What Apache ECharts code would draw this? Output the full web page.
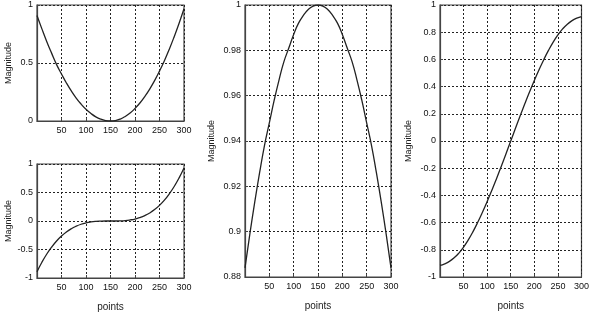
<!DOCTYPE html>
<html>
<head>
<meta charset="utf-8">
<script src="https://cdn.jsdelivr.net/npm/echarts@6/dist/echarts.min.js"></script>
<style>
    html,body{margin:0;padding:0;background:#fff;}
    #myChart{width:592px;height:327px;}
</style>
</head>
<body>
<div id="myChart"></div>
<script>
// x positions (points) the curves are read at
var pointsList = [0,10,20,30,40,50,60,70,80,90,100,110,120,130,140,150,160,170,180,190,200,210,220,230,240,250,260,270,280,290,300];

// top left: bowl shape
var squareList = [0.91,0.794,0.684,0.583,0.486,0.405,0.328,0.259,0.198,0.146,0.101,0.065,0.036,0.016,0.004,0,0.004,0.017,0.039,0.069,0.108,0.155,0.211,0.275,0.348,0.43,0.52,0.619,0.727,0.843,0.968];
// bottom left: flat in the middle
var cubeList = [-0.89,-0.724,-0.579,-0.456,-0.351,-0.264,-0.192,-0.135,-0.091,-0.057,-0.033,-0.017,-0.007,-0.002,0,0,0,0.002,0.007,0.018,0.034,0.06,0.095,0.141,0.2,0.275,0.366,0.476,0.605,0.756,0.93];
// middle: peak at 150
var peakList = [0.884,0.899,0.913,0.926,0.938,0.948,0.958,0.967,0.975,0.981,0.987,0.992,0.9954,0.998,0.9995,1,0.9995,0.998,0.9954,0.992,0.987,0.981,0.975,0.967,0.958,0.948,0.938,0.926,0.913,0.899,0.884];
// right: s-curve
var sineList = [-0.915,-0.903,-0.885,-0.859,-0.824,-0.78,-0.727,-0.666,-0.598,-0.524,-0.445,-0.362,-0.275,-0.185,-0.093,0,0.093,0.185,0.275,0.362,0.445,0.524,0.598,0.666,0.727,0.78,0.824,0.859,0.885,0.903,0.915];

// axis settings (min, max, step) for each panel
var yMinList = [0, -1, 0.88, -1];
var yMaxList = [1, 1, 1, 1];
var yStepList = [0.5, 0.5, 0.02, 0.2];
var xMin = 0, xMax = 300, xStep = 50;
var yName = 'Magnitude';
var xName = 'points';

var txtFont = 'Liberation Sans';
var gridLine = {show:true, lineStyle:{color:'#222', width:1, type:[2,2]}};

function pairUp(xs, ys){
    var out = [];
    for(var i=0;i<xs.length;i++){
        out.push([xs[i], ys[i]]);
    }
    return out;
}

function buildGrid(left, top, width, height){
    return {left:left, top:top, width:width, height:height, show:true,
        borderColor:'#444', borderWidth:1.2, backgroundColor:'#fff'};
}

function buildXAxis(idx, withName){
    return {
        type:'value', gridIndex:idx, min:xMin, max:xMax, interval:xStep,
        name: withName ? xName : '', nameLocation:'middle', nameGap:24,
        nameTextStyle:{fontFamily:txtFont, fontSize:10, color:'#222'},
        axisLine:{show:true, onZero:false, lineStyle:{color:'#444', width:1.2}},
        axisTick:{show:true, inside:true, length:3, lineStyle:{color:'#444'}},
        axisLabel:{fontFamily:txtFont, fontSize:9, color:'#111', margin:5,
            formatter:function(v){ return v === 0 ? '' : v; }},
        splitLine:gridLine
    };
}

function buildYAxis(idx, gap){
    return {
        type:'value', gridIndex:idx, min:yMinList[idx], max:yMaxList[idx], interval:yStepList[idx],
        name:yName, nameLocation:'middle', nameRotate:90, nameGap:gap,
        nameTextStyle:{fontFamily:txtFont, fontSize:9, color:'#222'},
        axisLine:{show:true, onZero:false, lineStyle:{color:'#444', width:1.2}},
        axisTick:{show:true, inside:true, length:3, lineStyle:{color:'#444'}},
        axisLabel:{fontFamily:txtFont, fontSize:9, color:'#111', margin:4},
        splitLine:gridLine
    };
}

function buildLine(idx, ys){
    return {
        type:'line', xAxisIndex:idx, yAxisIndex:idx,
        data:pairUp(pointsList, ys),
        showSymbol:false, clip:true, smooth:true,
        lineStyle:{color:'#222', width:1.3},
        animation:false
    };
}

var myChart = echarts.init(document.getElementById('myChart'), null, {renderer:'canvas'});
var option = {
    backgroundColor:'#fff',
    animation:false,
    grid:[
        buildGrid(37, 5, 147, 116),
        buildGrid(37, 164, 147, 114),
        buildGrid(245, 5, 146, 272),
        buildGrid(440, 5, 147, 272)
    ],
    xAxis:[
        buildXAxis(0, false),
        buildXAxis(1, true),
        buildXAxis(2, true),
        buildXAxis(3, true)
    ],
    yAxis:[
        buildYAxis(0, 24),
        buildYAxis(1, 24),
        buildYAxis(2, 29),
        buildYAxis(3, 27)
    ],
    series:[
        buildLine(0, squareList),
        buildLine(1, cubeList),
        buildLine(2, peakList),
        buildLine(3, sineList)
    ]
};
myChart.setOption(option);
</script>
</body>
</html>
